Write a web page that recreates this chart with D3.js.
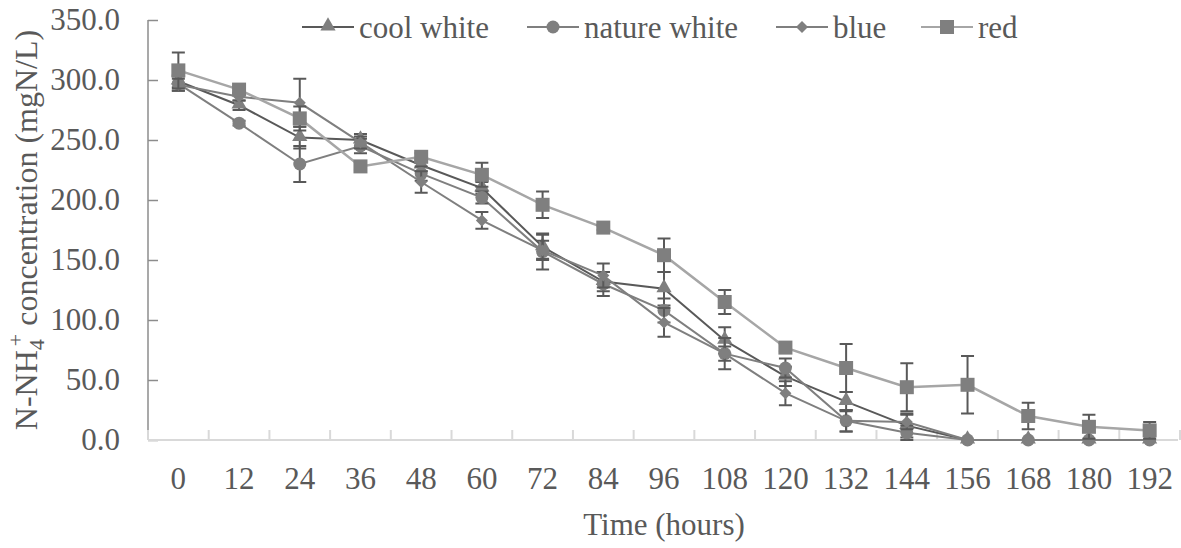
<!DOCTYPE html>
<html>
<head>
<meta charset="utf-8">
<script src="https://cdn.jsdelivr.net/npm/d3@7"></script>
<style>
  body { margin: 0; background: #fff; }
  svg text { font-family: "Liberation Serif", "Times New Roman", serif; fill: #595959; }
</style>
</head>
<body>
<svg id="chart" width="1181" height="548"></svg>
<script>
// time points (hours)
var hours = [0, 12, 24, 36, 48, 60, 72, 84, 96, 108, 120, 132, 144, 156, 168, 180, 192];

// N-NH4+ concentration, mgN/L
var coolWhite   = [299, 279, 252, 250, 229, 210, 161, 132, 126, 83, 53, 32, 12, 0, 0, 0, 0];
var natureWhite = [297, 264, 230, 245, 222, 202, 157, 130, 108, 72, 60, 16, 6, 0, 0, 0, 0];
var blue        = [296, 286, 281, 248, 215, 183, 158, 137, 98, 72, 39, 16, 15, 0, 0, 0, 0];
var red         = [308, 292, 268, 228, 236, 221, 196, 177, 154, 115, 77, 60, 44, 46, 20, 11, 8];

// standard deviation (error bars)
var coolWhiteErr   = [5, 4, 9, 5, 5, 5, 10, 8, 14, 11, 8, 8, 10, 0, 0, 0, 0];
var natureWhiteErr = [6, 2, 15, 6, 6, 5, 15, 10, 10, 13, 8, 9, 6, 0, 0, 0, 0];
var blueErr        = [5, 3, 20, 5, 9, 7, 8, 10, 12, 6, 10, 9, 6, 0, 0, 0, 0];
var redErr         = [15, 3, 10, 3, 3, 10, 11, 2, 14, 10, 3, 20, 20, 24, 11, 10, 7];

var yTicks = [0, 50, 100, 150, 200, 250, 300, 350];

var series = [
  { name: "cool white",   values: coolWhite,   err: coolWhiteErr,   line: "#595959", marker: "triangle" },
  { name: "nature white", values: natureWhite, err: natureWhiteErr, line: "#7f7f7f", marker: "circle" },
  { name: "blue",         values: blue,        err: blueErr,        line: "#7f7f7f", marker: "diamond" },
  { name: "red",          values: red,         err: redErr,         line: "#a6a6a6", marker: "square" }
];

var svg = d3.select("#chart");
var plotL = 148, plotR = 1180, plotT = 20, plotB = 440;

var x = d3.scaleBand().domain(hours).range([plotL, plotR]);
var y = d3.scaleLinear().domain([0, 350]).range([plotB, plotT]);
var cx = function(h) { return x(h) + x.bandwidth() / 2; };

var markerColor = "#7f7f7f";
var errColor = "#595959";

function drawMarker(g, type, px, py) {
  if (type == "triangle") {
    g.append("path").attr("d", d3.symbol().type(d3.symbolTriangle).size(100)())
      .attr("transform", "translate(" + px + "," + (py - 1) + ")").attr("fill", markerColor);
  } else if (type == "circle") {
    g.append("circle").attr("cx", px).attr("cy", py).attr("r", 6.5).attr("fill", markerColor);
  } else if (type == "diamond") {
    g.append("path").attr("d", "M0,-6L6,0L0,6L-6,0Z")
      .attr("transform", "translate(" + px + "," + py + ")").attr("fill", markerColor);
  } else {
    g.append("rect").attr("x", px - 7).attr("y", py - 7).attr("width", 14).attr("height", 14)
      .attr("fill", markerColor);
  }
}

// axes
var yAxis = svg.append("g").attr("transform", "translate(" + plotL + ",0)")
  .call(d3.axisLeft(y).tickValues(yTicks).tickSize(-10).tickPadding(28)
    .tickFormat(function(d) { return d3.format(".1f")(d); }));
yAxis.select(".domain").attr("stroke", "#8c8c8c").attr("stroke-width", 1.5).attr("d", "M0," + plotT + "V" + plotB);
yAxis.selectAll(".tick line").attr("stroke", "#8c8c8c").attr("stroke-width", 1.5);
yAxis.selectAll(".tick text").style("font-size", "31px").attr("fill", "#595959");

var xAxis = svg.append("g").attr("transform", "translate(0," + plotB + ")");
xAxis.append("line").attr("x1", plotL).attr("x2", plotR - 2).attr("y1", 0).attr("y2", 0)
  .attr("stroke", "#d9d9d9").attr("stroke-width", 2);
xAxis.selectAll("line.tk").data(hours.concat(["end"])).enter().append("line")
  .attr("class", "tk")
  .attr("x1", function(d, i) { return plotL + i * x.bandwidth(); })
  .attr("x2", function(d, i) { return plotL + i * x.bandwidth(); })
  .attr("y1", 0).attr("y2", -10).attr("stroke", "#d9d9d9").attr("stroke-width", 2);
xAxis.selectAll("text.lbl").data(hours).enter().append("text")
  .attr("class", "lbl")
  .attr("x", function(d) { return cx(d); })
  .attr("y", 49)
  .attr("text-anchor", "middle")
  .style("font-size", "31px")
  .text(function(d) { return d; });

// axis titles
svg.append("text").attr("x", 664).attr("y", 535).attr("text-anchor", "middle")
  .style("font-size", "31px").text("Time (hours)");

var yt = svg.append("text").attr("transform", "translate(37,230) rotate(-90)")
  .attr("text-anchor", "middle").style("font-size", "32px");
yt.append("tspan").text("N-NH");
yt.append("tspan").attr("dy", 7).style("font-size", "22px").text("4");
yt.append("tspan").attr("dy", -21).attr("dx", -7).style("font-size", "22px").text("+");
yt.append("tspan").attr("dy", 14).text(" concentration (mgN/L)");

// series lines
var line = d3.line().x(function(d, i) { return cx(hours[i]); }).y(function(d) { return y(d); });
var plot = svg.append("g");
series.forEach(function(s) {
  var g = plot.append("g");
  g.append("path").datum(s.values).attr("d", line)
    .attr("fill", "none").attr("stroke", s.line).attr("stroke-width", s.name == "red" ? 2.5 : 2);
  s.values.forEach(function(v, i) {
    var e = s.err[i];
    if (e > 0) {
      var px = cx(hours[i]);
      g.append("path")
        .attr("d", "M" + px + "," + y(v - e) + "V" + y(v + e) +
          "M" + (px - 6.5) + "," + y(v + e) + "H" + (px + 6.5) +
          "M" + (px - 6.5) + "," + y(v - e) + "H" + (px + 6.5))
        .attr("stroke", errColor).attr("stroke-width", 2).attr("fill", "none");
    }
  });
  s.values.forEach(function(v, i) { drawMarker(g, s.marker, cx(hours[i]), y(v)); });
});

// legend
var legendX = [302, 527, 776, 921];
var legend = svg.append("g");
series.forEach(function(s, i) {
  var g = legend.append("g");
  var lx = legendX[i];
  g.append("line").attr("x1", lx).attr("x2", lx + 52).attr("y1", 27).attr("y2", 27)
    .attr("stroke", s.line).attr("stroke-width", 2);
  drawMarker(g, s.marker, lx + 26, 27);
  g.append("text").attr("x", lx + 57).attr("y", 38).style("font-size", "31px").text(s.name);
});
</script>
</body>
</html>
